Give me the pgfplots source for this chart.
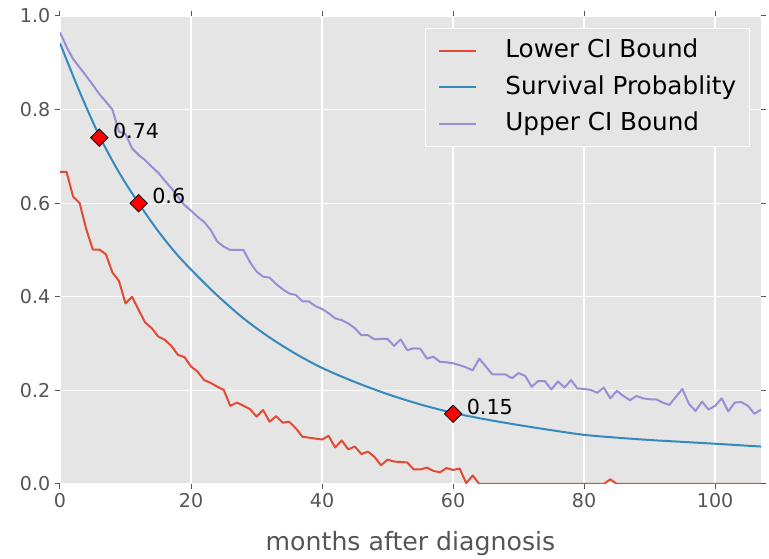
\documentclass[border=0pt]{standalone}
\usepackage{fontspec}
\setmainfont{DejaVu Sans}
\usepackage{pgfplots}
\usepackage{pgfplotstable}
\pgfplotsset{compat=1.18}
\definecolor{bg}{HTML}{E5E5E5}
\definecolor{cred}{HTML}{E24A33}
\definecolor{cblue}{HTML}{348ABD}
\definecolor{cpurple}{HTML}{988ED5}
\definecolor{txt}{HTML}{555555}

\pgfplotstableread{
t v
0 0.667
1 0.667
2 0.614
3 0.600
4 0.545
5 0.501
6 0.501
7 0.491
8 0.452
9 0.434
10 0.386
11 0.400
12 0.372
13 0.345
14 0.333
15 0.315
16 0.308
17 0.295
18 0.276
19 0.271
20 0.251
21 0.240
22 0.222
23 0.216
24 0.208
25 0.201
26 0.167
27 0.174
28 0.167
29 0.160
30 0.144
31 0.158
32 0.133
33 0.145
34 0.131
35 0.133
36 0.119
37 0.101
38 0.099
39 0.097
40 0.095
41 0.103
42 0.078
43 0.093
44 0.074
45 0.080
46 0.064
47 0.069
48 0.058
49 0.040
50 0.052
51 0.048
52 0.047
53 0.046
54 0.031
55 0.031
56 0.035
57 0.028
58 0.025
59 0.034
60 0.030
61 0.033
62 0.002
63 0.018
64 0
70 0
80 0
83 0
84 0.010
85 0
90 0
100 0
107 0
}\lowerci

\pgfplotstableread{
t v
0 0.942
3 0.838
6 0.744
9 0.666
12 0.600
15 0.540
18 0.488
21 0.444
24 0.403
28 0.354
32 0.313
36 0.278
40 0.248
45 0.218
50 0.192
55 0.170
60 0.152
65 0.138
70 0.126
75 0.115
80 0.105
85 0.099
90 0.094
95 0.090
100 0.086
107 0.080
}\surv

\pgfplotstableread{
t v
0 0.965
1 0.934
2 0.908
3 0.890
4 0.872
5 0.853
6 0.833
7 0.817
8 0.800
9 0.753
10 0.748
11 0.717
12 0.703
13 0.692
14 0.678
15 0.665
16 0.648
17 0.632
18 0.614
19 0.596
20 0.584
21 0.571
22 0.560
23 0.543
24 0.518
25 0.507
26 0.500
27 0.500
28 0.500
29 0.474
30 0.454
31 0.443
32 0.441
33 0.427
34 0.416
35 0.407
36 0.404
37 0.390
38 0.390
39 0.380
40 0.374
41 0.365
42 0.354
43 0.350
44 0.343
45 0.333
46 0.318
47 0.318
48 0.309
49 0.310
50 0.310
51 0.295
52 0.309
53 0.286
54 0.290
55 0.289
56 0.268
57 0.272
58 0.261
59 0.260
60 0.258
61 0.254
62 0.249
63 0.243
64 0.268
65 0.251
66 0.234
67 0.234
68 0.234
69 0.226
70 0.237
71 0.231
72 0.208
73 0.220
74 0.220
75 0.202
76 0.219
77 0.206
78 0.222
79 0.204
80 0.203
81 0.201
82 0.195
83 0.206
84 0.183
85 0.199
86 0.188
87 0.179
88 0.188
89 0.183
90 0.181
91 0.181
92 0.174
93 0.169
94 0.186
95 0.203
96 0.171
97 0.156
98 0.176
99 0.159
100 0.167
101 0.183
102 0.155
103 0.174
104 0.175
105 0.167
106 0.150
107 0.159
}\upperci

\pgfplotstableread{
x y label
6 0.74 0.74
12 0.6 0.6
60 0.15 0.15
}\marks

\begin{document}
\begin{tikzpicture}
\path[use as bounding box] (-45pt,-56.25pt) rectangle (531.75pt,363pt);
\begin{axis}[
  at={(0,0)}, anchor=south west,
  scale only axis, width=525.75pt, height=351pt,
  xmin=0, xmax=107, ymin=0, ymax=1,
  xtick={0,20,40,60,80,100},
  ytick={0,0.2,0.4,0.6,0.8,1},
  axis background/.style={fill=bg},
  axis line style={draw=none},
  grid=major,
  major grid style={white, line width=1pt},
  tick align=outside,
  major tick length=3.75pt,
  tick style={color=txt, line width=0.75pt},
  /pgf/number format/assume math mode=true,
  tick label style={font=\fontsize{14.3}{16}\selectfont, text=txt},
  yticklabel style={/pgf/number format/.cd, fixed, fixed zerofill, precision=1},
  xlabel={months after diagnosis},
  xlabel style={font=\fontsize{18.9}{22}\selectfont, text=txt,
    at={(axis description cs:0.5,0)}, anchor=base, yshift=-50.25pt},
  legend style={at={(1,1)}, anchor=north east, xshift=-8.25pt, yshift=-9pt,
    fill=bg, draw=white, line width=0.75pt,
    font=\fontsize{18.5}{22}\selectfont,
    inner xsep=10pt, inner ysep=3pt, column sep=21pt,
    nodes={inner sep=0pt, text height=18.75pt, text depth=8.75pt}},
  legend cell align=left,
  legend image code/.code={\draw[#1, line width=1.5pt] (0pt,0pt) -- (27.75pt,0pt);
    \path[draw=none, fill=none] (27.75pt,-3.5pt) rectangle (27.75pt,-3.5pt);},
]
\addplot[cred, line width=1.5pt, line join=round] table[x=t, y=v] {\lowerci};
\addlegendentry{Lower CI Bound}
\addplot[cblue, line width=1.5pt, smooth] table[x=t, y=v] {\surv};
\addlegendentry{Survival Probablity}
\addplot[cpurple, line width=1.5pt, line join=round] table[x=t, y=v] {\upperci};
\addlegendentry{Upper CI Bound}
\addplot[forget plot, only marks, mark=square*, mark size=4.6pt,
  mark options={rotate=45, fill=red, draw=black, line width=0.6pt},
  nodes near coords, point meta=explicit symbolic,
  nodes near coords style={anchor=west, xshift=10pt, yshift=5.3pt, inner sep=0pt,
    text height=, text depth=,
    font=\fontsize{15.5}{18}\selectfont, text=black}]
  table[x=x, y=y, meta=label] {\marks};
\end{axis}
\end{tikzpicture}
\end{document}
